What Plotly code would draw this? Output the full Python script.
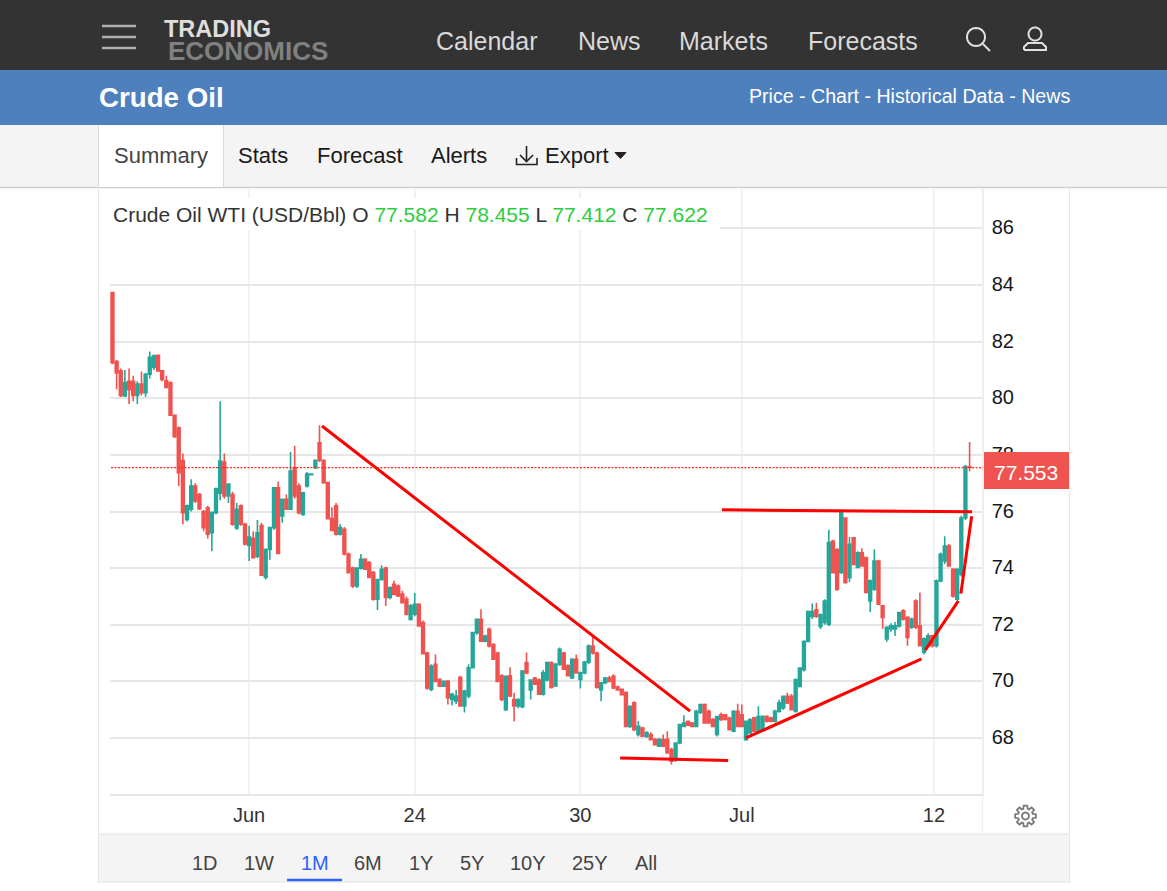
import math
import plotly.graph_objects as go

# candle values (USD/Bbl)
opens = [
    83.74, 81.3, 80.97, 80.08, 80.6, 80.6, 80.1, 80.5, 80.2, 80.85,
    81.1, 81.52, 80.97, 80.62, 80.55, 79.4, 78.96, 77.8, 75.72, 76.08,
    76.9, 76.6, 76.0, 76.13, 75.25, 75.96, 76.65, 77.75, 76.55, 76.6,
    75.42, 76.2, 75.55, 74.8, 75.05, 74.42, 75.5, 73.68, 74.66, 75.43,
    76.84, 75.84, 76.43, 76.08, 77.55, 76.9, 75.9, 76.9, 77.3, 77.55,
    78.43, 77.8, 77.02, 75.75, 76.2, 75.2, 75.37, 74.5, 74.0, 73.37,
    74.0, 74.31, 74.2, 73.85, 72.9, 73.6, 74.0, 72.96, 73.43, 73.37,
    73.08, 72.9, 72.19, 72.37, 72.72, 72.08, 71.0, 69.71, 70.6, 70.07,
    69.83, 70.0, 69.36, 69.3, 70.13, 69.13, 69.48, 70.48, 71.72, 72.19,
    71.42, 71.84, 71.3, 71.0, 70.2, 69.0, 70.2, 69.36, 69.13, 69.1,
    70.66, 69.7, 70.12, 70.05, 69.55, 70.05, 70.66, 69.84, 70.6, 71.0,
    70.55, 70.12, 70.78, 70.07, 70.3, 70.68, 71.25, 71.0, 69.7, 69.95,
    70.12, 70.18, 69.8, 69.72, 69.6, 68.41, 69.24, 68.12, 68.35, 68.06,
    68.12, 67.94, 67.71, 67.94, 67.94, 67.59, 67.24, 67.82, 68.41, 68.59,
    68.53, 68.41, 68.9, 69.18, 68.94, 68.65, 68.12, 68.82, 68.82, 68.7,
    68.24, 68.94, 68.82, 67.94, 68.18, 68.71, 68.24, 68.29, 68.76, 68.7,
    68.59, 68.94, 69.06, 69.47, 69.47, 68.94, 69.82, 70.41, 71.41, 72.29,
    72.53, 71.94, 72.08, 72.02, 74.95, 74.66, 73.84, 75.77, 73.66, 75.07,
    74.02, 74.54, 74.37, 72.84, 73.25, 74.25, 72.67, 71.5, 71.85, 71.85,
    71.96, 72.49, 72.26, 71.91, 72.84, 71.96, 71.03, 71.26, 71.61, 71.26,
    73.55, 74.25, 74.78, 73.96, 72.9, 73.78, 75.77, 77.582,
]
highs = [
    83.74, 81.35, 81.05, 81.0, 81.05, 80.8, 80.6, 80.95, 80.9, 81.65,
    81.55, 81.55, 81.0, 80.8, 80.6, 79.4, 79.0, 78.05, 76.25, 77.14,
    77.0, 76.65, 76.05, 76.2, 76.0, 76.85, 79.9, 78.05, 76.97, 76.7,
    76.3, 76.25, 75.6, 75.5, 75.3, 75.7, 75.6, 74.7, 75.45, 76.85,
    77.05, 76.45, 76.6, 78.1, 78.32, 77.0, 76.7, 77.4, 77.35, 77.85,
    79.05, 77.85, 77.05, 76.15, 76.3, 75.55, 75.45, 74.55, 74.05, 74.0,
    74.5, 74.35, 74.25, 73.9, 73.6, 74.1, 74.05, 73.35, 73.55, 73.42,
    73.2, 73.0, 72.72, 73.13, 72.76, 72.15, 71.05, 70.6, 70.95, 70.1,
    70.0, 70.05, 69.6, 69.7, 70.2, 69.7, 70.6, 71.75, 72.2, 72.55,
    71.65, 71.9, 71.35, 71.05, 70.25, 70.2, 70.5, 69.6, 69.4, 70.4,
    71.02, 70.05, 70.15, 70.1, 70.4, 70.7, 70.7, 70.65, 71.2, 71.05,
    70.6, 70.82, 70.95, 70.35, 70.72, 71.3, 71.6, 71.05, 69.95, 70.15,
    70.2, 70.25, 69.85, 69.75, 69.65, 69.15, 69.3, 68.6, 68.4, 68.25,
    68.2, 68.0, 68.0, 68.12, 68.24, 67.65, 67.85, 68.5, 68.8, 68.62,
    68.56, 69.0, 69.2, 69.22, 69.0, 68.7, 68.78, 68.9, 68.85, 68.75,
    68.98, 69.21, 69.18, 68.6, 68.7, 68.75, 69.12, 68.8, 68.8, 68.75,
    69.0, 69.35, 69.5, 69.6, 69.55, 70.06, 70.5, 71.45, 72.5, 72.75,
    72.78, 72.4, 72.9, 75.36, 75.0, 74.7, 76.06, 75.8, 75.1, 75.1,
    74.6, 74.7, 74.4, 73.6, 74.66, 74.3, 72.7, 71.95, 72.05, 72.1,
    72.45, 72.55, 72.3, 72.25, 72.9, 73.14, 71.55, 71.7, 71.65, 73.6,
    74.55, 75.13, 74.85, 74.0, 74.0, 75.85, 77.65, 78.455,
]
lows = [
    81.2, 80.32, 80.05, 80.05, 79.8, 79.9, 79.8, 80.1, 80.05, 80.7,
    81.0, 80.95, 80.6, 80.35, 79.4, 78.6, 76.9, 75.55, 75.65, 76.0,
    76.3, 76.05, 75.3, 75.05, 74.6, 75.9, 76.4, 76.45, 76.3, 75.5,
    75.35, 75.5, 74.8, 74.25, 74.35, 74.35, 73.72, 73.6, 74.3, 75.35,
    74.5, 75.6, 76.05, 76.05, 76.45, 75.9, 75.85, 76.85, 77.28, 77.5,
    77.75, 76.98, 75.72, 75.3, 75.15, 75.15, 74.45, 73.82, 73.3, 73.3,
    73.95, 73.95, 73.65, 72.85, 72.52, 73.55, 72.66, 72.9, 73.05, 72.98,
    72.75, 72.33, 72.15, 72.3, 71.95, 70.97, 69.7, 69.65, 69.98, 69.8,
    69.8, 69.18, 69.15, 69.2, 69.1, 68.9, 69.4, 70.45, 71.65, 71.4,
    71.38, 71.2, 70.75, 70.0, 69.3, 68.95, 69.45, 68.58, 69.05, 69.05,
    70.25, 69.36, 69.87, 69.52, 69.5, 70.0, 69.75, 69.8, 70.55, 70.4,
    70.18, 70.08, 70.3, 69.75, 70.25, 70.6, 70.95, 69.75, 69.3, 69.9,
    69.98, 69.72, 69.68, 69.5, 68.41, 68.35, 68.25, 68.05, 68.04, 68.0,
    67.92, 67.75, 67.68, 67.7, 67.46, 67.06, 67.15, 67.78, 68.38, 68.42,
    68.38, 68.38, 68.85, 68.5, 68.5, 68.38, 68.05, 68.6, 68.62, 68.28,
    68.2, 68.38, 68.38, 67.9, 68.12, 68.2, 68.2, 68.25, 68.55, 68.55,
    68.55, 68.9, 69.0, 69.2, 69.0, 68.9, 69.78, 70.35, 71.38, 72.2,
    72.25, 71.85, 72.0, 71.95, 73.84, 73.2, 73.8, 73.45, 73.5, 74.1,
    74.0, 74.05, 73.1, 72.45, 73.2, 72.7, 71.85, 71.4, 71.75, 71.6,
    71.9, 72.15, 71.26, 71.85, 71.85, 71.25, 70.95, 71.2, 71.2, 71.2,
    73.5, 74.15, 74.05, 72.95, 72.85, 73.7, 75.7, 77.412,
]
closes = [
    81.26, 80.9, 80.1, 80.56, 80.3, 80.1, 80.5, 80.2, 80.85, 81.45,
    81.5, 80.97, 80.67, 80.38, 79.4, 78.65, 77.37, 75.96, 76.2, 76.9,
    76.37, 76.1, 75.43, 75.2, 75.96, 76.8, 77.78, 76.55, 76.97, 75.55,
    76.08, 75.55, 74.85, 75.1, 74.37, 75.25, 73.75, 74.66, 75.43, 76.84,
    74.52, 76.43, 76.08, 77.43, 76.55, 75.96, 76.66, 77.32, 77.32, 77.8,
    77.8, 77.02, 75.75, 75.33, 75.2, 75.43, 74.5, 73.84, 73.37, 74.0,
    74.31, 73.96, 73.67, 72.9, 73.6, 73.96, 72.96, 73.31, 73.07, 73.02,
    72.78, 72.37, 72.68, 72.72, 71.96, 70.98, 69.77, 70.54, 70.0, 69.83,
    70.0, 69.42, 69.54, 69.48, 69.13, 69.66, 70.48, 71.72, 72.19, 71.42,
    71.6, 71.25, 70.78, 70.0, 69.36, 70.18, 69.48, 69.13, 69.36, 70.36,
    70.3, 70.05, 69.9, 69.55, 70.3, 70.66, 69.78, 70.6, 71.13, 70.43,
    70.2, 70.78, 70.3, 70.3, 70.68, 71.25, 71.0, 69.78, 69.95, 70.12,
    70.0, 69.77, 69.7, 69.53, 68.41, 69.12, 68.29, 68.41, 68.06, 68.18,
    67.94, 67.76, 67.94, 67.71, 67.47, 67.18, 67.82, 68.47, 68.53, 68.45,
    68.41, 68.94, 69.18, 68.53, 68.53, 68.41, 68.76, 68.65, 68.65, 68.29,
    68.94, 68.41, 68.41, 68.59, 68.65, 68.24, 68.76, 68.76, 68.59, 68.59,
    68.94, 69.24, 69.47, 69.24, 69.0, 70.06, 70.47, 71.41, 72.47, 72.47,
    72.29, 72.35, 72.84, 74.9, 73.84, 73.25, 76.0, 73.49, 74.84, 74.13,
    74.54, 74.08, 73.14, 73.55, 74.25, 72.73, 72.26, 71.91, 71.96, 71.96,
    72.43, 72.2, 71.55, 72.2, 71.91, 71.26, 71.5, 71.61, 71.26, 73.55,
    74.49, 74.78, 74.08, 73.02, 73.96, 75.77, 77.59, 77.553,
]

# hand drawn red trend lines, None splits the segments
trend_x = [50.6, 139.5, None, 122.6, 148.7, None, 153, 195.4, None,
           196.3, 204.3, None, 204.9, 207.5, None, 147.2, 207.6]
trend_y = [79.02, 68.95, None, 67.29, 67.2, None, 68.0, 70.79, None,
           71.1, 72.84, None, 73.1, 75.83, None, 76.06, 75.99]

tick_pos = [33, 73, 113, 152, 198.4]
tick_labels = ["Jun", "24", "30", "Jul", "12"]
price_ticks = [68, 70, 72, 74, 76, 78, 80, 82, 84, 86]
last_price = 77.553

nav_items = [("Calendar", 436), ("News", 578), ("Markets", 679), ("Forecasts", 808)]
tab_items = [("Stats", 238), ("Forecast", 317), ("Alerts", 431), ("Export", 545)]
range_items = [("1D", 205), ("1W", 259), ("1M", 315), ("6M", 368), ("1Y", 421),
               ("5Y", 472), ("10Y", 528), ("25Y", 590), ("All", 646)]

W, H = 1167, 891
FONT = "Liberation Sans"
UP = "#26a69a"
DOWN = "#ef5350"


def px(x):
    return x / W


def py(y):
    return 1 - y / H


shapes = []
annotations = []


def rect(x0, y0, x1, y1, fill, line=None, layer="below"):
    shapes.append(dict(type="rect", xref="paper", yref="paper", layer=layer,
                       x0=px(x0), y0=py(y0), x1=px(x1), y1=py(y1), fillcolor=fill,
                       line=dict(color=line or fill, width=1 if line else 0)))


def line(x0, y0, x1, y1, color, width=1, layer="below"):
    shapes.append(dict(type="line", xref="paper", yref="paper", layer=layer,
                       x0=px(x0), y0=py(y0), x1=px(x1), y1=py(y1),
                       line=dict(color=color, width=width)))


def poly(points, color, width=2, fill=None, close=False):
    path = "M " + " L ".join(f"{px(a):.5f},{py(b):.5f}" for a, b in points)
    if close:
        path += " Z"
    shapes.append(dict(type="path", xref="paper", yref="paper", layer="above", path=path,
                       fillcolor=fill or "rgba(0,0,0,0)",
                       line=dict(color=color, width=width)))


def circle(cx, cy, r, color, width=2):
    poly([(cx + r * math.cos(a * math.pi / 18), cy + r * math.sin(a * math.pi / 18))
          for a in range(37)], color, width)


def label(x, y, text, size, color, anchor="left"):
    # annotation boxes sit about a pixel inside the anchor
    x = x - 1 if anchor == "left" else x + 1 if anchor == "right" else x
    annotations.append(dict(x=px(x), y=py(y), xref="paper", yref="paper", text=text,
                            showarrow=False, xanchor=anchor, yanchor="middle", borderpad=0,
                            font=dict(family=FONT, size=size, color=color)))


# page header
rect(0, 0, W, 70, "#333333")
rect(0, 70, W, 125, "#4e80bd")
rect(0, 125, W, 187, "#f4f4f4")
line(0, 187.5, W, 187.5, "#cfcfcf", 1.5)
rect(99, 125, 223, 187, "#ffffff")
line(98.5, 125, 98.5, 187, "#dddddd")
line(223.5, 125, 223.5, 187, "#dddddd")

for y in [26, 37, 48]:
    line(102, y, 136, y, "#b0b0b0", 2.5)
label(164, 29, "<b>TRADING</b>", 23.5, "#dedede")
label(168, 50.5, "<b>ECONOMICS</b>", 26, "#808080")
for name, x in nav_items:
    label(x, 41, name, 25, "#d9d9d9")
circle(976, 37, 9, "#e0e0e0")
line(983, 44, 990, 51, "#e0e0e0", 2, "above")
circle(1035, 34, 6.5, "#e0e0e0")
poly([(1024, 50), (1024, 47), (1028, 43), (1042, 43), (1046, 47), (1046, 50), (1024, 50)], "#e0e0e0")

label(99, 97, "<b>Crude Oil</b>", 27.7, "#ffffff")
label(1070, 96, "Price - Chart - Historical Data - News", 19.6, "#ffffff", "right")

label(114, 156, "Summary", 22, "#444444")
for name, x in tab_items:
    label(x, 156, name, 22, "#1a1a1a")
poly([(526.5, 146), (526.5, 161)], "#222222", 1.6)
poly([(520, 155), (526.5, 161.5), (533, 155)], "#222222", 1.6)
poly([(516.5, 158), (516.5, 164.5), (537, 164.5), (537, 158)], "#222222", 1.6)
poly([(615, 152.5), (626, 152.5), (620.5, 158.5)], "#222222", 1, "#222222", True)

# chart panel
line(98.5, 187, 98.5, 835, "#e8e8e8")
line(1069.5, 187, 1069.5, 835, "#e8e8e8")
line(982.5, 794, 982.5, 834, "#eeeeee")

# range selector strip
rect(98.5, 834, 1069.5, 882, "#f4f4f4", "#e2e2e2")
for name, x in range_items:
    label(x, 863, name, 20, "#2962ff" if name == "1M" else "#444444", "center")
line(287, 880, 342, 880, "#2962ff", 2.5)

# legend box on top of the grid
rect(99, 198, 720, 230, "#ffffff", layer="above")
green = "#2ecc40"
label(113, 214.5,
      f'Crude Oil WTI (USD/Bbl) O <span style="color:{green}">77.582</span> '
      f'H <span style="color:{green}">78.455</span> '
      f'L <span style="color:{green}">77.412</span> '
      f'C <span style="color:{green}">77.622</span>',
      21, "#333333")

# last price line and tag
shapes.append(dict(type="line", xref="paper", yref="y", layer="above",
                   x0=px(111), x1=px(983), y0=last_price, y1=last_price,
                   line=dict(color="#ff2a20", width=1.2, dash="2px,1.5px")))
rect(984, 452, 1069, 489, DOWN, layer="above")
label(1026, 472, f"{last_price}", 21, "#ffffff", "center")

# settings gear
gear = []
for k in range(8):
    a = k * math.pi / 4
    for off, r in [(-0.3, 7.5), (-0.17, 10.5), (0.17, 10.5), (0.3, 7.5)]:
        gear.append((1025.5 + r * math.cos(a + off), 816 + r * math.sin(a + off)))
poly(gear, "#777777", 1.8, None, True)
circle(1025.5, 816, 3.5, "#777777", 1.8)

fig = go.Figure()
fig.add_trace(go.Candlestick(
    x=list(range(len(closes))),
    open=opens, high=highs, low=lows, close=closes,
    increasing=dict(line=dict(color=UP, width=1.6), fillcolor=UP),
    decreasing=dict(line=dict(color=DOWN, width=1.6), fillcolor=DOWN),
    whiskerwidth=0,
    showlegend=False,
))
fig.add_trace(go.Scatter(
    x=trend_x, y=trend_y, mode="lines",
    line=dict(color="#ff0000", width=3),
    showlegend=False,
))

fig.update_layout(
    width=W, height=H,
    margin=dict(l=0, r=0, t=0, b=0),
    paper_bgcolor="white",
    plot_bgcolor="white",
    hovermode=False,
    boxgap=0.05,
    shapes=shapes,
    annotations=annotations,
    font=dict(family=FONT, color="#131722"),
    xaxis=dict(
        domain=[110 / W, 982 / W],
        range=[-0.6, 210],
        rangeslider=dict(visible=False),
        tickmode="array", tickvals=tick_pos, ticktext=tick_labels,
        tickfont=dict(size=20, color="#333333"),
        ticks="", ticklabelstandoff=2,
        showgrid=True, gridcolor="#eef3f7", gridwidth=1.5,
        showline=True, linecolor="#e6e6e6", linewidth=2,
        zeroline=False,
    ),
    yaxis=dict(
        domain=[1 - 794 / H, 1 - 188 / H],
        range=[66.02, 87.43],
        side="right",
        tickmode="array", tickvals=price_ticks,
        tickfont=dict(size=20, color="#131722"),
        ticks="", ticklabelstandoff=4, ticklabelshift=-1,
        showgrid=True, gridcolor="#e6e6e6", gridwidth=1.5,
        showline=True, linecolor="#eeeeee", linewidth=1.5,
        zeroline=False,
    ),
)

fig.write_html("out.html", config=dict(displayModeBar=False),
               post_script="document.body.style.margin='0';document.body.style.overflow='hidden';")
